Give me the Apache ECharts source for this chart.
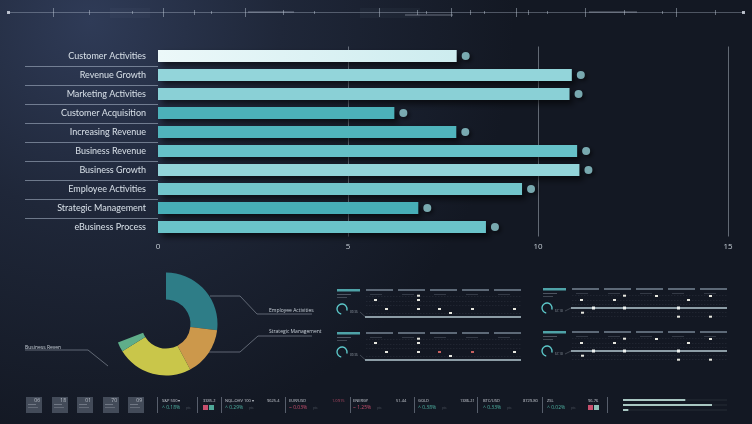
<!DOCTYPE html>
<html>
<head>
<meta charset="utf-8">
<title>Business Dashboard</title>
<script src="https://cdn.jsdelivr.net/npm/echarts@6/dist/echarts.min.js"></script>
<style>
html,body{margin:0;padding:0;background:#1a2130;}
#main{width:752px;height:424px;}
</style>
</head>
<body>
<div id="main"></div>
<script>
(function(){
    // 数据
    var categories = ['Customer Activities', 'Revenue Growth', 'Marketing Activities', 'Customer Acquisition',
        'Increasing Revenue', 'Business Revenue', 'Business Growth', 'Employee Activities',
        'Strategic Management', 'eBusiness Process'];
    var barValues = [7.86, 10.89, 10.83, 6.22, 7.85, 11.03, 11.09, 9.58, 6.85, 8.63];
    var xTicks = [0, 5, 10, 15];
    var pieNames = ['Employee Activities', 'Strategic Management', 'Business Reven', 'Other', 'Rest'];
    var pieValues = [97, 55, 86, 11, 111];
    var tileNumbers = ['06', '18', '01', '70', '09'];
    var tickerNames = ['S&P 500 ▾', 'NQL-OHV 100 ▾', 'EUR/USD', 'ENERGY', 'GOLD', 'BTC/USD', 'ZSL'];
    var tickerChanges = ['0.18%', '0.29%', '0.03%', '1.25%', '0.38%', '0.33%', '0.02%'];
    var tickerUp = [true, true, false, false, true, true, true];
    var tickerPrices = ['3385.2', '9625.4', '1.0915', '51.44', '1386.21', '8729.80', '96.76'];
    var progressValues = [0.70, 1.0, 0.06];

    // 样式
    var barColors = ['#dff3f4', '#93d5da', '#8ad0d6', '#4cb1b9', '#50b4bc', '#66c1c8', '#93d4d9', '#72c5cb', '#47aeb7', '#6ac3c9'];
    var pieColors = ['#2e7d87', '#cc984b', '#c9c64a', '#5fae8a', 'rgba(0,0,0,0)'];
    var pieCx = 166, pieCy = 324;

    var myChart = echarts.init(document.getElementById('main'));

    var option = {
        backgroundColor: new echarts.graphic.RadialGradient(0.12, 0.05, 1.0, [
            {offset: 0, color: '#2f3b57'},
            {offset: 0.45, color: '#1f2739'},
            {offset: 1, color: '#131823'}
        ]),
        animation: false,
        grid: {left: 158, right: 24, top: 46.5, bottom: 187.5, containLabel: false},
        xAxis: {
            type: 'value', min: 0, max: 15, interval: 5,
            axisLine: {show: false}, axisTick: {show: false},
            axisLabel: {
                color: '#c6ced6', fontSize: 8, margin: 6, fontFamily: 'Open Sans',
                formatter: function (v) { return xTicks.indexOf(v) > -1 ? String(v) : ''; }
            },
            splitLine: {show: true, showMinLine: false, lineStyle: {color: 'rgba(195,205,215,0.45)', width: 1}}
        },
        yAxis: {
            type: 'category', inverse: true, data: categories,
            axisLine: {show: false}, axisTick: {show: false},
            axisLabel: {color: '#d8e0e8', fontSize: 9, margin: 12, fontFamily: 'Lato'}
        },
        series: [{
            type: 'bar',
            data: barValues,
            barWidth: 12,
            itemStyle: {
                color: function (p) {
                    if (p.dataIndex === 0) {
                        return new echarts.graphic.LinearGradient(0, 0, 1, 0, [
                            {offset: 0, color: '#ecf8f9'}, {offset: 1, color: '#cdecef'}
                        ]);
                    }
                    return barColors[p.dataIndex];
                },
                shadowColor: 'rgba(0,0,0,0.6)', shadowBlur: 6, shadowOffsetX: 4, shadowOffsetY: 4
            },
            z: 3
        }, {
            type: 'scatter',
            data: barValues.map(function (v, i) { return [v, categories[i]]; }),
            symbolSize: 8,
            symbolOffset: [9, 0],
            itemStyle: {color: '#94d0d6', shadowColor: 'rgba(0,0,0,0.7)', shadowBlur: 4, shadowOffsetX: 2, shadowOffsetY: 2},
            z: 4
        }, {
            type: 'pie',
            center: [pieCx, pieCy],
            radius: [24.5, 51.5],
            startAngle: 90,
            clockwise: true,
            avoidLabelOverlap: false,
            data: pieValues.map(function (v, i) {
                var hasLabel = i < 3;
                return {
                    name: pieNames[i], value: v,
                    itemStyle: {color: pieColors[i]},
                    label: {show: hasLabel},
                    labelLine: {show: hasLabel},
                    emphasis: {disabled: true}
                };
            }),
            label: {position: 'outside', color: '#c8d0d8', fontSize: 5, fontFamily: 'Open Sans'},
            labelLine: {lineStyle: {color: 'rgba(190,200,212,0.55)', width: 0.8}},
            labelLayout: function (p) {
                var cx = pieCx, cy = pieCy;
                if (p.dataIndex === 0) {
                    return {x: cx + 103, y: cy - 13.5, align: 'left', verticalAlign: 'middle',
                        labelLinePoints: [[cx + 44, cy - 28], [cx + 74, cy - 28], [cx + 91, cy - 10], [cx + 146, cy - 10]]};
                }
                if (p.dataIndex === 1) {
                    return {x: cx + 103, y: cy + 7.5, align: 'left', verticalAlign: 'middle',
                        labelLinePoints: [[cx + 40, cy + 28], [cx + 74, cy + 28], [cx + 92, cy + 12], [cx + 146, cy + 12]]};
                }
                if (p.dataIndex === 2) {
                    return {x: cx - 141, y: cy + 23.5, align: 'left', verticalAlign: 'middle',
                        labelLinePoints: [[cx - 58, cy + 42], [cx - 78, cy + 26], [cx - 141, cy + 26]]};
                }
                return {};
            },
            z: 2
        }]
    };
    myChart.setOption(option);

    // 装饰
    var g = [];
    function rect(x, y, w, h, fill) { g.push({type: 'rect', silent: true, shape: {x: x, y: y, width: w, height: h}, style: {fill: fill}}); }
    function line(x1, y1, x2, y2, stroke, w, dash) {
        g.push({type: 'line', silent: true, shape: {x1: x1, y1: y1, x2: x2, y2: y2}, style: {stroke: stroke, lineWidth: w || 1, lineDash: dash || null}});
    }
    function text(x, y, s, fill, size, align) {
        g.push({type: 'text', silent: true, x: x, y: y, style: {text: s, fill: fill, fontSize: size, fontFamily: 'Open Sans', align: align || 'left', verticalAlign: 'middle'}});
    }

    // 分类分隔线
    for (var i = 1; i < categories.length; i++) {
        var y0 = myChart.convertToPixel({yAxisIndex: 0}, categories[i - 1]);
        var y1 = myChart.convertToPixel({yAxisIndex: 0}, categories[i]);
        var yy = Math.round((y0 + y1) / 2) + 0.5;
        line(25, yy, 158, yy, 'rgba(175,188,205,0.55)', 1);
    }

    // 顶部装饰线
    line(8, 12.5, 744, 12.5, 'rgba(190,200,218,0.35)', 1);
    rect(7, 11, 3, 3, 'rgba(220,225,235,0.8)');
    rect(742, 11, 3, 3, 'rgba(220,225,235,0.8)');
    [53, 89, 132, 163, 194, 211, 245, 283, 314, 379, 417, 426, 451, 470, 484, 516, 528, 547, 585, 624, 662, 676, 715].forEach(function (x, k) {
        var h = (k % 3 === 0) ? 9 : ((k % 3 === 1) ? 5 : 3);
        rect(x, 12.5 - h / 2, 1, h, 'rgba(200,210,225,0.45)');
    });
    rect(248, 11, 46, 2, 'rgba(190,200,215,0.25)');
    rect(405, 14, 48, 2, 'rgba(190,200,215,0.25)');
    rect(589, 11, 48, 2, 'rgba(190,200,215,0.25)');
    rect(110, 8, 40, 10, 'rgba(120,135,160,0.06)');
    rect(360, 8, 60, 10, 'rgba(120,135,160,0.06)');

    // 右侧小面板
    function panel(x0, y0, variant, k) {
        rect(x0, y0, 23, 2.5, '#4fa3a8');
        rect(x0, y0 + 5, 14, 1, 'rgba(150,160,172,0.45)');
        rect(x0, y0 + 8, 10, 1, 'rgba(150,160,172,0.35)');
        for (var c = 0; c < 5; c++) {
            rect(x0 + 29 + c * 32, y0, 27, 2, '#5d6977');
            rect(x0 + 33 + c * 32, y0 + 5, 12, 1, 'rgba(130,140,152,0.3)');
        }
        [7, 12, 16, 24, 28].forEach(function (d) {
            line(x0 + 29, y0 + d + 0.5, x0 + 184, y0 + d + 0.5, 'rgba(120,132,145,0.22)', 0.6, [1.5, 1.5]);
        });
        var gcx = x0 + (variant === 'A' ? 5 : 4), gcy = y0 + 20;
        g.push({type: 'arc', silent: true, shape: {cx: gcx, cy: gcy, r: 5, startAngle: Math.PI * 0.55, endAngle: Math.PI * 2.1},
            style: {stroke: '#5cc6c8', lineWidth: 1.4, fill: null}});
        text(gcx + 8, gcy + 3, variant === 'A' ? '89.36' : '67.18', 'rgba(190,200,210,0.7)', 3);
        line(gcx + 18, gcy + 3, x0 + 28, y0 + (variant === 'A' ? 27.5 : 20), 'rgba(170,180,190,0.5)', 0.6);
        var sq;
        if (variant === 'A') {
            rect(x0 + 28, y0 + 27, 156, 2, '#8c9ca5');
            sq = [[37, 10], [80, 5.7], [80, 10], [48, 19], [80, 19], [101, 19], [112, 23], [134, 19], [176, 19]];
        } else {
            rect(x0 + 28, y0 + 19, 156, 2, '#8c9ca5');
            [49, 80, 134].forEach(function (d) { rect(x0 + d, y0 + 18.5, 3, 3, '#eef2f0'); });
            sq = [[37, 11], [70, 11], [80, 6.7], [112, 7], [144, 11], [166, 7], [38, 23.7], [134, 27.7], [166, 27.7]];
        }
        sq.forEach(function (p, n) {
            var col = (k === 1 && variant === 'A' && (n === 5 || n === 7)) ? '#c7605f' : '#e6e6de';
            rect(x0 + p[0], y0 + p[1], 3, 2, col);
        });
    }
    panel(337, 289, 'A', 0);
    panel(337, 332, 'A', 1);
    panel(543, 288, 'B', 0);
    panel(543, 331, 'B', 1);

    // 底部行情条
    var tileX = [26, 52, 77, 103, 128];
    tileNumbers.forEach(function (n, k) {
        rect(tileX[k], 397, 16, 16, '#434b59');
        rect(tileX[k] + 2, 404, 8, 1, 'rgba(200,205,215,0.35)');
        rect(tileX[k] + 2, 407, 10, 1, 'rgba(200,205,215,0.25)');
        text(tileX[k] + 14, 400.5, n, 'rgba(215,220,228,0.8)', 5, 'right');
    });
    [157, 197, 221, 285, 350, 414, 477, 542, 607].forEach(function (x) {
        line(x + 0.5, 397, x + 0.5, 413, 'rgba(170,180,195,0.45)', 1);
    });
    var nameX = [162, 225, 289, 353, 418, 483, 547];
    var priceX = [203, 267, 332, 396, 460, 523, 588];
    tickerNames.forEach(function (n, k) {
        var col = tickerUp[k] ? '#4fb3a3' : '#c8506e';
        text(nameX[k], 400.7, n, 'rgba(225,228,235,0.85)', 4);
        text(nameX[k], 407.7, (tickerUp[k] ? '^ ' : '~ ') + tickerChanges[k], col, 5);
        text(nameX[k] + 24, 408.2, 'pts', 'rgba(150,160,170,0.45)', 3);
        text(priceX[k], 400.7, tickerPrices[k], (k === 2 ? '#b44a66' : 'rgba(225,228,235,0.85)'), 4);
    });
    rect(203, 405, 5, 5, '#c8506e');
    rect(209, 405, 5, 5, '#4fa898');
    rect(588, 405, 5, 5, '#c8506e');
    rect(594, 405, 5, 5, '#8fc0b8');
    progressValues.forEach(function (v, k) {
        var yy = 400 + k * 5;
        rect(623, yy - 0.5, 104, 1, 'rgba(150,165,170,0.15)');
        rect(623, yy - 1, 89 * v, 2, '#a9c7c2');
    });

    myChart.setOption({graphic: {elements: g}});

    window.addEventListener('resize', function () { myChart.resize(); });
})();
</script>
</body>
</html>
